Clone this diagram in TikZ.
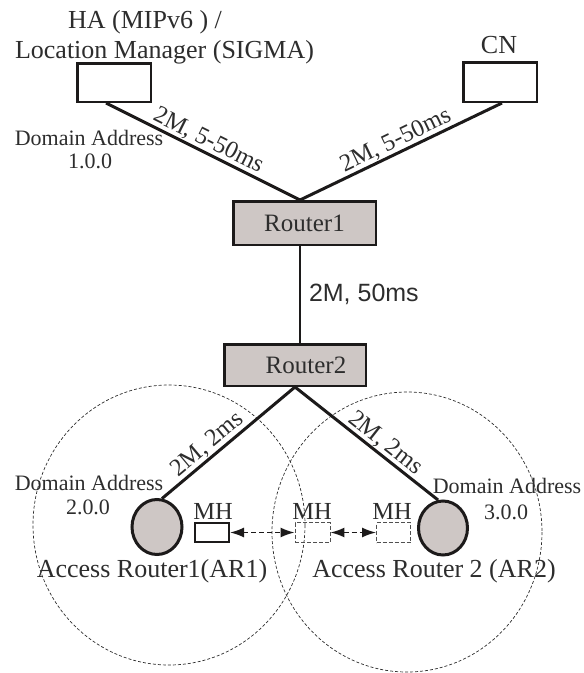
\documentclass[tikz,border=0pt]{standalone}
\usepackage{fontspec}
\setmainfont{Liberation Serif}
\newfontfamily\lsans{Liberation Sans}
\usetikzlibrary{arrows.meta,calc,shapes.geometric}
\definecolor{txt}{RGB}{45,45,45}
\definecolor{lin}{RGB}{28,26,26}
\definecolor{rfill}{RGB}{206,199,197}
\definecolor{dsh}{RGB}{80,80,80}
\begin{document}
\begin{tikzpicture}[x=1pt,y=-1pt,
  bigtxt/.style={font=\fontsize{26}{30}\selectfont, text=txt, inner sep=0pt},
  lbltxt/.style={font=\fontsize{24.5}{28}\selectfont, text=txt, inner sep=0.5pt},
  smalltxt/.style={font=\fontsize{22}{26}\selectfont, text=txt, inner sep=0pt},
  routerbox/.style={draw=lin, line width=2.5pt, fill=rfill, inner sep=0pt,
     font=\fontsize{25}{30}\selectfont, text=txt},
  hostbox/.style={draw=lin, line width=2.5pt, inner sep=0pt, minimum width=73.5pt},
  arnode/.style={ellipse, draw=lin, line width=3pt, fill=rfill, inner sep=0pt,
     minimum width=50pt, minimum height=55pt},
  mhbox/.style={draw=lin, line width=2pt, inner sep=0pt, minimum width=34pt, minimum height=19pt},
  mhdash/.style={draw=dsh, line width=0.9pt, dash pattern=on 4pt off 2pt, inner sep=0pt,
     minimum width=35pt, minimum height=20pt},
  thickline/.style={draw=lin, line width=3pt},
  cellcircle/.style={draw=txt, line width=0.7pt, dash pattern=on 3pt off 2pt},
  movearrow/.style={draw=lin, line width=1.6pt, dash pattern=on 5pt off 3pt,
     {Latex[length=14pt,width=10pt]}-{Latex[length=14pt,width=10pt]}}
]
\useasboundingbox (0,0) rectangle (584,673);

% coverage areas
\draw[cellcircle] (169,525) ellipse [x radius=136, y radius=140];
\draw[cellcircle] (407,532) ellipse [x radius=135, y radius=140];

% nodes
\node[hostbox, minimum height=38.5pt] (ha) at (114,82.5) {};
\node[hostbox, minimum height=39.5pt] (cn) at (500,82) {};
\node[routerbox, minimum width=142.5pt, minimum height=43.5pt] (r1) at (304.5,223) {Router1};
\node[routerbox, minimum width=141.5pt, minimum height=41.5pt] (r2) at (295,365) {\hspace*{22pt}Router2};
\node[arnode] (ar1) at (157,527) {};
\node[arnode, minimum width=49pt, minimum height=54pt] (ar2) at (443,528) {};
\node[mhbox] (mh1) at (212,532.5) {};
\node[mhdash] (mh2) at (312.5,532.5) {};
\node[mhdash, minimum width=34pt] (mh3) at (393.5,532.5) {};
\coordinate (vx) at (300,0);

% texts
\node[bigtxt, anchor=base] (hatxt) at (145,28) {HA (MIPv6 ) /};
\node[bigtxt, anchor=base] (lmtxt) at (164.5,58) {Location Manager (SIGMA)};
\node[bigtxt, anchor=base] (cntxt) at (499,53) {CN};
\node[smalltxt, anchor=base] (da1) at (89,145) {Domain Address};
\node[smalltxt, anchor=base] (ad1) at (90,168) {1.0.0};
\node[smalltxt, anchor=base] (da2) at (89,490) {Domain Address};
\node[smalltxt, anchor=base] (ad2) at (88,514) {2.0.0};
\node[smalltxt, anchor=base] (da3) at (507,493) {Domain Address};
\node[smalltxt, anchor=base] (ad3) at (506,519) {3.0.0};
\node[lbltxt, anchor=base, inner sep=0pt] (mht1) at (213,519) {MH};
\node[lbltxt, anchor=base, inner sep=0pt] (mht2) at (312,519) {MH};
\node[lbltxt, anchor=base, inner sep=0pt] (mht3) at (392,519) {MH};
\node[bigtxt, anchor=base] (ar1txt) at (152,577) {Access Router1(AR1)};
\node[bigtxt, anchor=base] (ar2txt) at (434,577) {Access Router 2 (AR2)};

% links
\draw[thickline] ($(ha.south)+(-8,0)$) -- node[lbltxt, sloped, above, pos=0.5] {2M, 5-50ms} (r1.north -| vx);
\draw[thickline] ($(cn.south)+(2,0)$) -- node[lbltxt, sloped, above, pos=0.5] {2M, 5-50ms} (r1.north -| vx);
\draw[draw=lin, line width=2pt] (r1.south -| vx) -- node[right, inner sep=0pt, xshift=8pt, font=\lsans\fontsize{25}{30}\selectfont, text=txt] (l3) {2M, 50ms} (r2.north -| vx);
\draw[thickline] (r2.south) -- node[lbltxt, sloped, above, pos=0.6] {2M, 2ms} (ar1.80);
\draw[thickline] (r2.south) -- node[lbltxt, sloped, above, pos=0.58] {2M, 2ms} (ar2.100);

% movement arrows
\draw[movearrow] (mh1.east) -- (mh2.west);
\draw[movearrow] (mh2.east) -- (mh3.west);
\end{tikzpicture}
\end{document}
